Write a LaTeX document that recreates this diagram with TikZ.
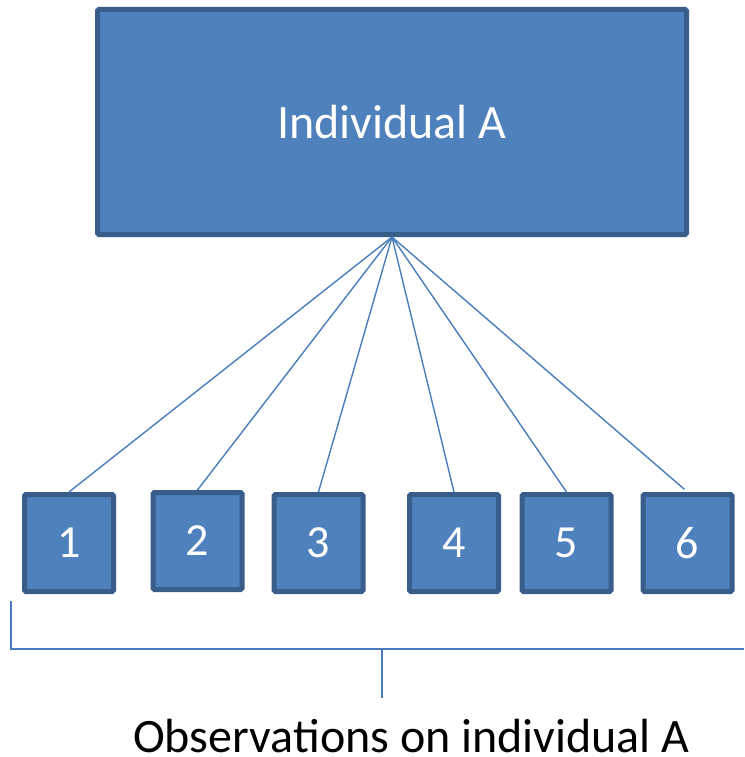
\documentclass[tikz,border=0pt]{standalone}
\usepackage{fontspec}
\setmainfont{Carlito}
\definecolor{boxfill}{HTML}{4F81BD}
\definecolor{boxline}{HTML}{385D8A}
\definecolor{conn}{HTML}{4A7EBB}
\begin{document}
\begin{tikzpicture}[x=1pt,y=-1pt,
  bigbox/.style={draw=boxline,fill=boxfill,line width=5pt,rounded corners=1.5pt,
    minimum width=589pt,minimum height=225pt,inner sep=0pt,text=white,font=\fontsize{48}{58}\selectfont},
  obsbox/.style={draw=boxline,fill=boxfill,line width=5pt,rounded corners=1.5pt,
    minimum width=89pt,minimum height=97pt,inner sep=0pt,text=white,font=\fontsize{46}{56}\selectfont},
  conline/.style={draw=conn,line width=1.4pt},
  brace/.style={draw=conn,line width=1.6pt}]
\useasboundingbox (0,0) rectangle (744,757);
\node[bigbox] (A) at (392,122) {Individual A};
\node[obsbox] (o1) at (69,543) {1};
\node[obsbox] (o2) at (197.5,541) {2};
\node[obsbox] (o3) at (318.5,543) {3};
\node[obsbox] (o4) at (454,543) {4};
\node[obsbox] (o5) at (566.5,543) {5};
\node[obsbox] (o6) at (687.5,543) {6};
\foreach \i in {1,...,5} \draw[conline] (A.south) -- (o\i.north);
\draw[conline,shorten >=4pt] (A.south) -- (o6.north);
\coordinate (bl) at (11,601);
\coordinate (bc) at (11,649);
\coordinate (br) at (744,649);
\coordinate (tm) at (382,649);
\coordinate (tb) at (382,698);
\draw[brace] (bl) -- (bc) -- (br);
\draw[brace] (tm) -- (tb);
\node[anchor=base,inner sep=0pt,font=\fontsize{48}{58}\selectfont] (lab) at (411.5,752) {Observations on individual A};
\end{tikzpicture}
\end{document}
